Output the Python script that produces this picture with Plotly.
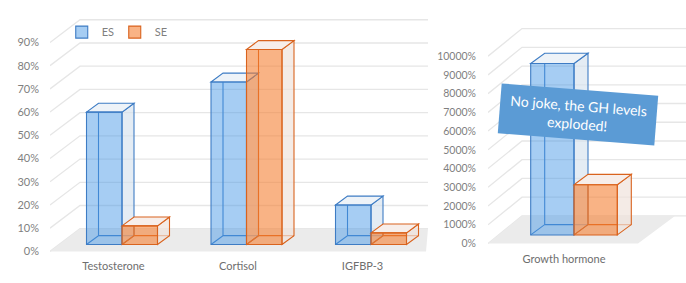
import plotly.graph_objects as go

# ---------------- data ----------------
categories = ["Testosterone", "Cortisol", "IGFBP-3"]
es_values = [57, 70, 17]
se_values = [8, 84, 5]
gh_category = ["Growth hormone"]
gh_es_values = [9150]
gh_se_values = [2680]
left_ticks = [0, 10, 20, 30, 40, 50, 60, 70, 80, 90]
left_tick_labels = ["0%", "10%", "20%", "30%", "40%", "50%", "60%", "70%", "80%", "90%"]
right_ticks = [0, 1000, 2000, 3000, 4000, 5000, 6000, 7000, 8000, 9000, 10000]
right_tick_labels = ["0%", "1000%", "2000%", "3000%", "4000%", "5000%", "6000%", "7000%",
                     "8000%", "9000%", "10000%"]
series_names = ["ES", "SE"]
note_text = "No joke, the GH levels<br>exploded!"

# ---------------- styling / geometry (pixels) ----------------
W, H = 686, 283
FONT = "Lato"
TICK_COLOR = "#7f7f7f"
GRID_COLOR = "#e6e6e6"
FLOOR_COLOR = "#ebebeb"

STYLE = {
    "ES": dict(edge="#3e7cc4", front="rgba(70,150,230,0.48)", side="rgba(214,226,238,0.65)", top="#eef3f8"),
    "SE": dict(edge="#d9631e", front="rgba(244,124,44,0.58)", side="rgba(240,226,219,0.7)", top="#f7eeea"),
}

panels = [
    dict(name="left", xa="x", ya="y", cats=categories, es=es_values, se=se_values,
         ticks=left_ticks, tick_labels=left_tick_labels,
         x_px=(50, 430), y_bottom_px=257, zero_px=255, k=2.355, cat0_px=113.5, ppc=124.5,
         floor_d=(30, 23), floor_right=(426, 428), bar_shift=(8.5, 7), bar_d=(12, 9), bar_w=35.5,
         tick_size=11, standoff_y=10, standoff_x=5, grid_right=428),
    dict(name="right", xa="x2", ya="y2", cats=gh_category, es=gh_es_values, se=gh_se_values,
         ticks=right_ticks, tick_labels=right_tick_labels,
         x_px=(488, 686), y_bottom_px=252, zero_px=247, k=0.019, cat0_px=564, ppc=100.0,
         floor_d=(34, 28), floor_right=(638, 675), bar_shift=(10, 8.7), bar_d=(14, 10.5), bar_w=43.3,
         tick_size=10.5, standoff_y=11, standoff_x=3, grid_right=686),
]

fig = go.Figure()
shapes = []
layout_axes = {}

for p in panels:
    k, ppc = p["k"], p["ppc"]
    px2x = lambda px, p=p: (px - p["cat0_px"]) / p["ppc"]
    dx_u = lambda px, p=p: px / p["ppc"]
    dv_u = lambda px, p=p: px / p["k"]
    xr = [px2x(p["x_px"][0]), px2x(p["x_px"][1])]
    yr = [(p["zero_px"] - p["y_bottom_px"]) / k, p["zero_px"] / k]
    sfx = "" if p["xa"] == "x" else "2"

    layout_axes["xaxis" + sfx] = dict(
        domain=[p["x_px"][0] / W, p["x_px"][1] / W], range=xr, anchor=p["ya"],
        tickvals=list(range(len(p["cats"]))), ticktext=p["cats"], showgrid=False, zeroline=False,
        showline=False, ticks="", ticklabelstandoff=p["standoff_x"],
        tickfont=dict(family=FONT, size=11, color="#6e6e6e"), fixedrange=True)
    layout_axes["yaxis" + sfx] = dict(
        domain=[(H - p["y_bottom_px"]) / H, 1], range=yr, anchor=p["xa"],
        tickvals=p["ticks"], ticktext=p["tick_labels"], showgrid=False, zeroline=False,
        showline=False, ticks="", ticklabelstandoff=p["standoff_y"],
        tickfont=dict(family=FONT, size=p["tick_size"], color=TICK_COLOR), fixedrange=True)

    fdx, fdv = dx_u(p["floor_d"][0]), dv_u(p["floor_d"][1])
    xl = xr[0]
    xg = px2x(p["grid_right"])
    # gridlines: side wall diagonal + back wall horizontal
    for v in p["ticks"]:
        shapes.append(dict(type="path", xref=p["xa"], yref=p["ya"], layer="below",
                           path=f"M{xl},{v} L{xl + fdx},{v + fdv} L{xg},{v + fdv}",
                           line=dict(color=GRID_COLOR, width=1.3)))
    # floor
    xfr, xbr = px2x(p["floor_right"][0]), px2x(p["floor_right"][1])
    shapes.append(dict(type="path", xref=p["xa"], yref=p["ya"], layer="below",
                       path=f"M{xl},0 L{xl + fdx},{fdv} L{xbr},{fdv} L{xfr},0 Z",
                       fillcolor=FLOOR_COLOR, line=dict(width=0)))

    # bars
    w = dx_u(p["bar_w"])
    bdx, bdv = dx_u(p["bar_d"][0]), dv_u(p["bar_d"][1])
    base = dv_u(p["bar_shift"][1])
    for s, (sname, vals) in enumerate(zip(series_names, [p["es"], p["se"]])):
        st = STYLE[sname]
        off = dx_u(p["bar_shift"][0]) + (s - 1) * w
        for i, v in enumerate(vals):
            x0 = i + off
            x1 = x0 + w
            top = base + v
            ln = dict(color=st["edge"], width=1.1)
            # hidden back edges
            shapes.append(dict(type="path", xref=p["xa"], yref=p["ya"], layer="below",
                               path=(f"M{x0},{base} L{x0 + bdx},{base + bdv} L{x0 + bdx},{top + bdv} "
                                     f"M{x0 + bdx},{base + bdv} L{x1 + bdx},{base + bdv}"),
                               line=ln))
            # right side face
            shapes.append(dict(type="path", xref=p["xa"], yref=p["ya"], layer="below",
                               path=f"M{x1},{base} L{x1 + bdx},{base + bdv} L{x1 + bdx},{top + bdv} L{x1},{top} Z",
                               fillcolor=st["side"], line=ln))
            # top face
            shapes.append(dict(type="path", xref=p["xa"], yref=p["ya"], layer="below",
                               path=f"M{x0},{top} L{x0 + bdx},{top + bdv} L{x1 + bdx},{top + bdv} L{x1},{top} Z",
                               fillcolor=st["top"], line=ln))
        fig.add_trace(go.Bar(
            x=list(range(len(vals))), y=vals, base=base, width=w, offset=off,
            name=sname, legendgroup=sname, showlegend=(p["name"] == "left"),
            marker=dict(color=st["front"], line=dict(color=st["edge"], width=1.1)),
            xaxis=p["xa"], yaxis=p["ya"], hoverinfo="skip"))

# annotation on GH panel
ann_x = (577.5 - panels[1]["cat0_px"]) / panels[1]["ppc"]
ann_y = (panels[1]["zero_px"] - 116) / panels[1]["k"]

fig.update_layout(
    width=W, height=H, margin=dict(l=0, r=0, t=0, b=0),
    paper_bgcolor="white", plot_bgcolor="rgba(0,0,0,0)",
    barmode="overlay", shapes=shapes,
    showlegend=True,
    legend=dict(orientation="h", x=0.09, y=0.885, xanchor="left", yanchor="middle",
                font=dict(family=FONT, size=11, color=TICK_COLOR), bgcolor="rgba(0,0,0,0)",
                itemwidth=30, entrywidth=8, tracegroupgap=0),
    annotations=[dict(xref="x2", yref="y2", x=ann_x, y=ann_y, text=note_text, showarrow=False,
                      textangle=4.5, bgcolor="#5b9bd5", borderpad=7, width=142,
                      font=dict(family=FONT, size=14, color="white"), align="center")],
    **layout_axes,
)

fig.write_html("out.html")
